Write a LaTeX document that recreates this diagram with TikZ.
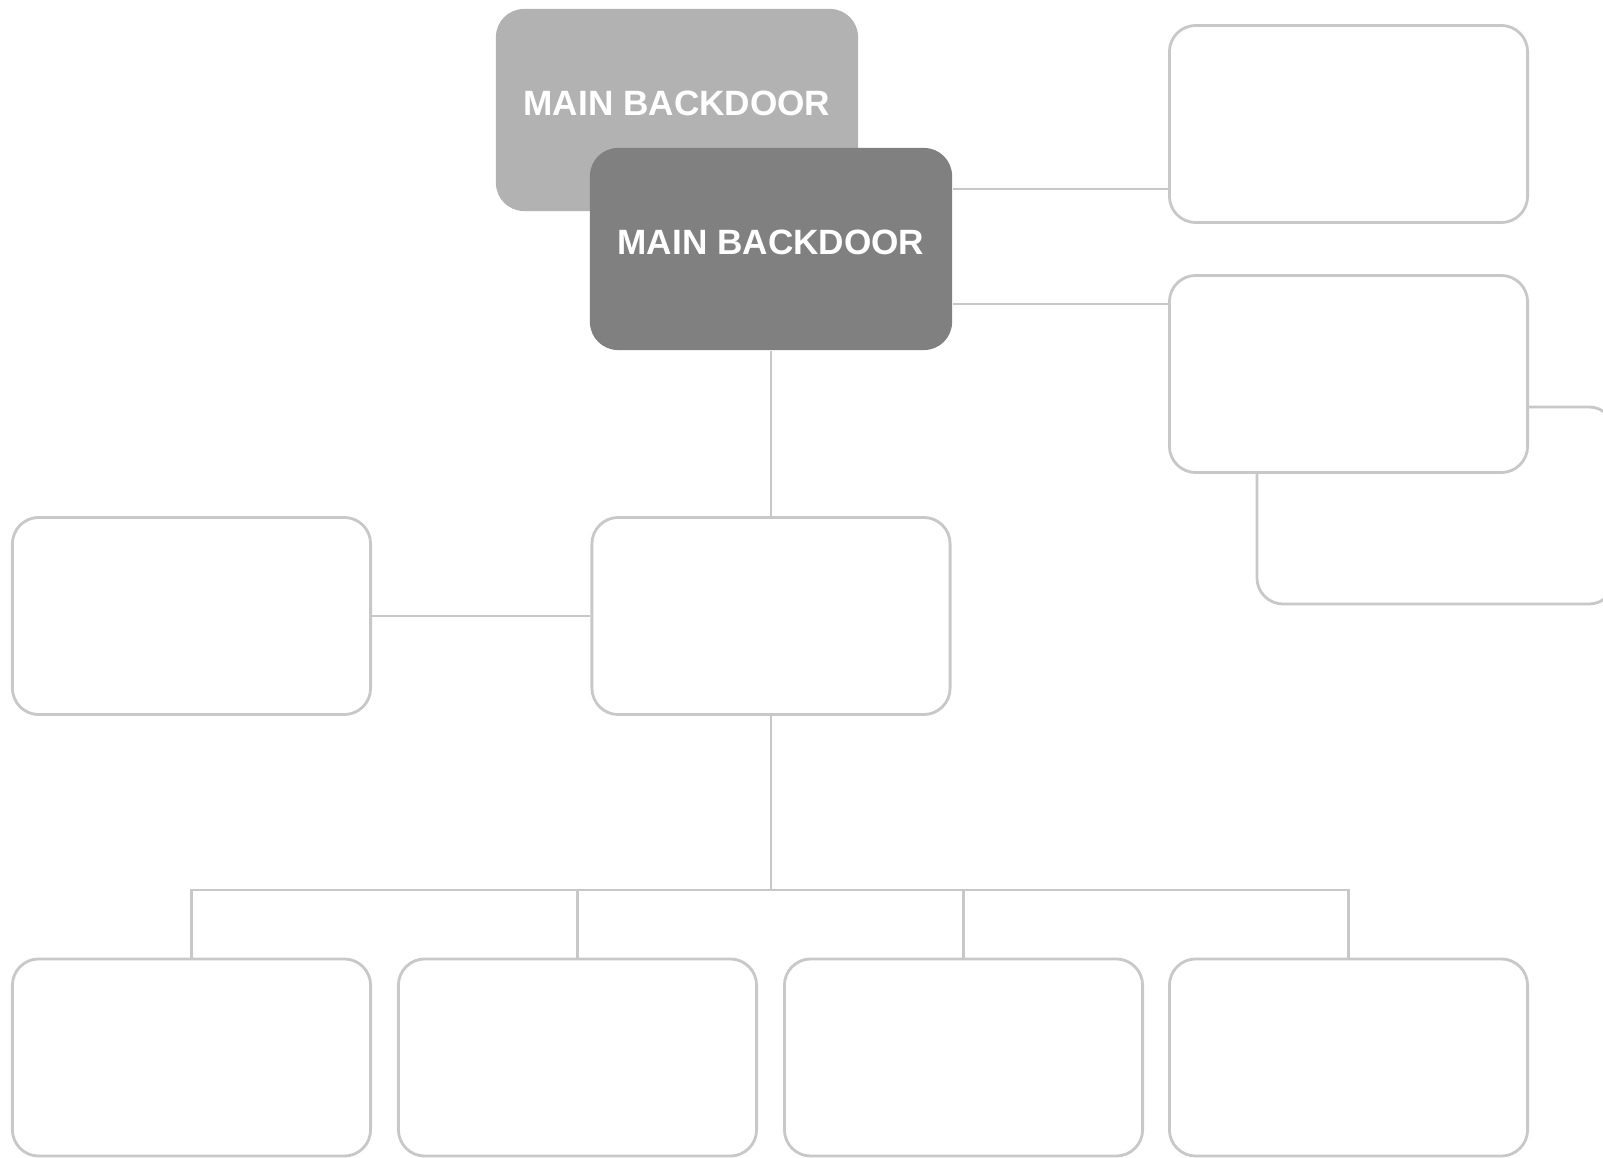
\documentclass[tikz,border=0pt]{standalone}
\usepackage{fontspec}
\setmainfont{Liberation Sans}
\usetikzlibrary{positioning,calc}
\definecolor{bdLight}{HTML}{B2B2B2}
\definecolor{bdDark}{HTML}{808080}
\definecolor{bdLine}{HTML}{C8C8C8}
\tikzset{
    mainbox/.style={
        fill=#1,rounded corners=8pt,minimum width=3.62cm,minimum height=2.02cm,
        inner sep=0pt,text depth=0.14cm,text=white,
        font=\fontsize{10}{12}\selectfont\bfseries
    },
    mainbox/.default=bdDark,
    emptybox/.style={
        draw=bdLine,line width=0.8pt,fill=white,rounded corners=7.5pt,
        minimum width=3.58cm,minimum height=1.97cm,inner sep=0pt
    },
    link/.style={
        draw=bdLine,line width=0.8pt
    }
}

\begin{document}
\begin{tikzpicture}[x=0.01cm,y=-0.01cm]

\useasboundingbox (0,0) rectangle (1603,1158);
\clip (0,0) rectangle (1603,1158);

% top pair
\node[mainbox=bdLight] (light) at (677,110) {MAIN BACKDOOR};
\node[mainbox] (main) at (771,249) {MAIN BACKDOOR};

% right column
\node[emptybox] (side1) at (1348.5,124) {};
\node[emptybox] (side3) at (1436,505.5) {};
\node[emptybox] (side2) at (1348.5,374) {};

\draw[link] (main.east |- 0,189) -- (side1.west |- 0,189);
\draw[link] (main.east |- 0,304) -- (side2.west |- 0,304);

% middle row
\node[emptybox] (centre) at (771,616) {};
\node[emptybox] (left) at (191.5,616) {};

\draw[link] (main.south) -- (centre.north);
\draw[link] (left.east) -- (centre.west);

% bottom row
\foreach \x [count=\i] in {191.5,577.5,963.5,1348.5}
    \node[emptybox] (bot\i) at (\x,1057.5) {};

\coordinate (bus) at (771,890);
\draw[link] (centre.south) -- (bus);
\draw[link] (bot1.north) |- (bus) -| (bot4.north);
\draw[link] (bot2.north) -- (bot2.north |- bus);
\draw[link] (bot3.north) -- (bot3.north |- bus);

\end{tikzpicture}
\end{document}
